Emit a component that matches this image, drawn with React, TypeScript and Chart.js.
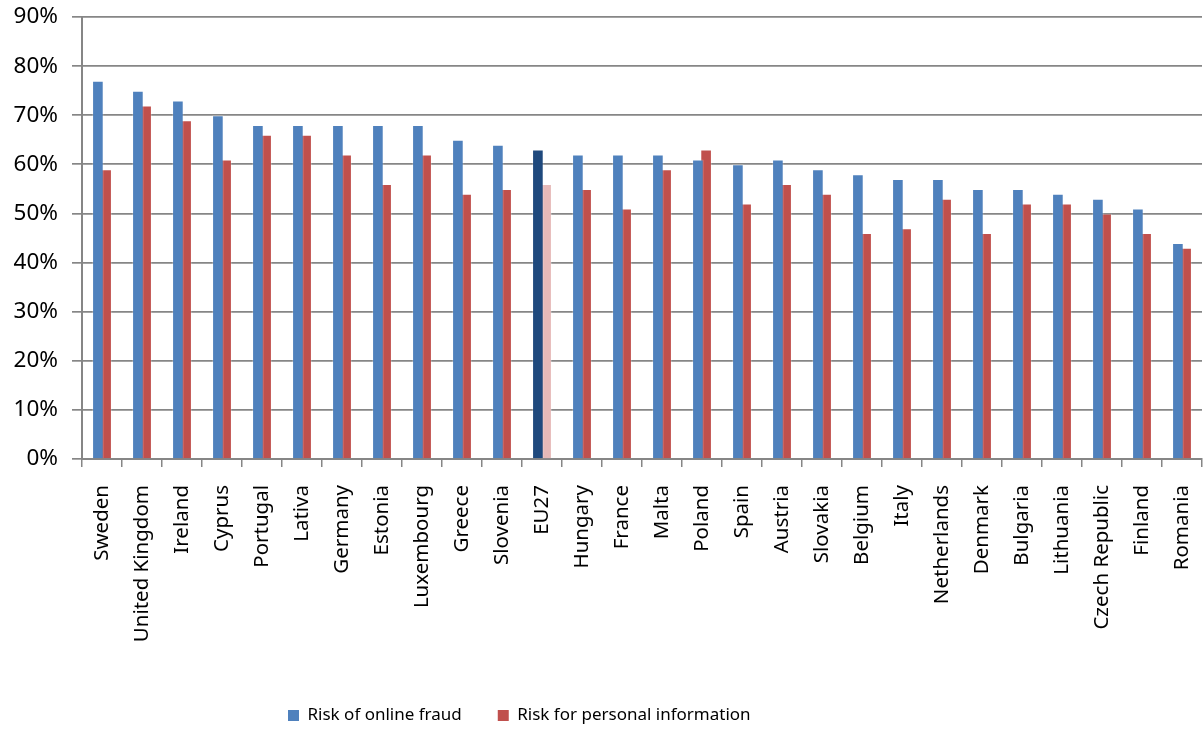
import React, { useEffect, useRef } from "react";
import { Chart, registerables } from "chart.js";

Chart.register(...registerables);

const countries = [
  "Sweden", "United Kingdom", "Ireland", "Cyprus", "Portugal", "Lativa", "Germany",
  "Estonia", "Luxembourg", "Greece", "Slovenia", "EU27", "Hungary", "France", "Malta",
  "Poland", "Spain", "Austria", "Slovakia", "Belgium", "Italy", "Netherlands", "Denmark",
  "Bulgaria", "Lithuania", "Czech Republic", "Finland", "Romania",
];

// Share of respondents (%) by country
const onlineFraud = [
  77, 75, 73, 70, 68, 68, 68, 68, 68, 65, 64, 63, 62, 62, 62,
  61, 60, 61, 59, 58, 57, 57, 55, 55, 54, 53, 51, 44,
];
const personalInfo = [
  59, 72, 69, 61, 66, 66, 62, 56, 62, 54, 55, 56, 55, 51, 59,
  63, 52, 56, 54, 46, 47, 53, 46, 52, 52, 50, 46, 43,
];

const yTicks = [0, 10, 20, 30, 40, 50, 60, 70, 80, 90];

const FONT = "'Noto Sans', 'Open Sans', sans-serif";
const BLUE = "#4F81BD";
const RED = "#C0504D";
const BLUE_EU = "#1F497D";
const RED_EU = "#E6B9B8";
const GRID = "#868686";

// Places the legend row at a fixed left offset below the axis labels
const legendOffset = {
  id: "legendOffset",
  afterLayout(chart: any) {
    const legend = chart.legend;
    if (legend) {
      legend.left = 252;
    }
  },
};

export default function App() {
  const canvasRef = useRef<HTMLCanvasElement | null>(null);

  useEffect(() => {
    const canvas = canvasRef.current;
    if (!canvas) return;

    const blueColors = countries.map((c) => (c === "EU27" ? BLUE_EU : BLUE));
    const redColors = countries.map((c) => (c === "EU27" ? RED_EU : RED));

    const chart = new Chart(canvas, {
      type: "bar",
      data: {
        labels: countries,
        datasets: [
          {
            label: "Risk of online fraud",
            data: onlineFraud,
            backgroundColor: blueColors,
            borderColor: "rgba(255,255,255,0.25)",
            borderWidth: 1,
            categoryPercentage: 0.41,
            barPercentage: 1.42,
          },
          {
            label: "Risk for personal information",
            data: personalInfo,
            backgroundColor: redColors,
            borderColor: "rgba(255,255,255,0.25)",
            borderWidth: 1,
            categoryPercentage: 0.41,
            barPercentage: 1.42,
          },
        ],
      },
      plugins: [legendOffset],
      options: {
        responsive: false,
        animation: false,
        devicePixelRatio: 1,
        layout: { padding: { top: 17, right: 1, left: 0, bottom: -5 } },
        plugins: {
          tooltip: { enabled: false },
          legend: {
            position: "bottom",
            align: "start",
            labels: {
              boxWidth: 11,
              boxHeight: 11,
              padding: 36,
              color: "#000",
              font: { family: FONT, size: 17 },
              generateLabels: () => [
                { text: "Risk of online fraud", fillStyle: BLUE, strokeStyle: BLUE, lineWidth: 0, datasetIndex: 0 },
                { text: "Risk for personal information", fillStyle: RED, strokeStyle: RED, lineWidth: 0, datasetIndex: 1 },
              ],
            },
          },
        },
        scales: {
          x: {
            grid: {
              offset: true,
              drawOnChartArea: false,
              drawTicks: true,
              tickLength: 8,
              color: GRID,
              lineWidth: 1.5,
            },
            border: { color: GRID, width: 2 },
            ticks: {
              autoSkip: false,
              minRotation: 90,
              maxRotation: 90,
              padding: 18,
              color: "#000",
              font: { family: FONT, size: 20.5, lineHeight: 0.1 },
            },
            afterFit: (scale: any) => {
              scale.height = 212;
              scale.paddingLeft = 0;
              scale.paddingRight = 0;
            },
          },
          y: {
            min: 0,
            max: 90,
            afterBuildTicks: (scale: any) => {
              scale.ticks = yTicks.map((v) => ({ value: v }));
            },
            grid: {
              color: GRID,
              lineWidth: 1.7,
              drawTicks: true,
              tickLength: 10,
            },
            border: { color: GRID, width: 2 },
            ticks: {
              padding: 14,
              color: "#000",
              font: { family: FONT, size: 22.5, lineHeight: 0.3 },
              callback: (v: any) => `${v}%`,
            },
            afterFit: (scale: any) => {
              scale.width = 82;
              scale.paddingTop = 0;
              scale.paddingBottom = 0;
            },
          },
        },
      },
    });

    return () => chart.destroy();
  }, []);

  return (
    <div style={{ position: "absolute", left: 0, top: 0, width: 1203, height: 729, background: "#fff" }}>
      <canvas ref={canvasRef} width={1203} height={729} />
    </div>
  );
}
